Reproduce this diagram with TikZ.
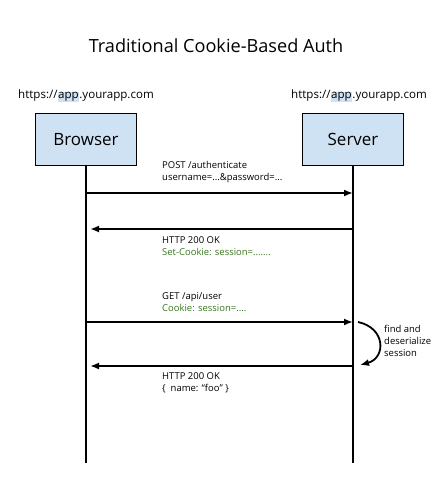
\documentclass[tikz,border=0pt]{standalone}
\usepackage{fontspec}
\setmainfont{Open Sans}
\usetikzlibrary{arrows.meta}
\definecolor{boxblue}{HTML}{CFE2F3}
\definecolor{hlblue}{HTML}{CFE2F3}
\definecolor{okgreen}{HTML}{38761D}
\newcommand{\hlapp}{{\setlength{\fboxsep}{0.6pt}\colorbox{hlblue}{app}}}

\begin{document}
\begin{tikzpicture}[x=1bp,y=-1bp,>={Latex[length=9bp,width=7bp]},
  actor/.style={draw,line width=1.3bp,fill=boxblue,minimum width=101bp,minimum height=52bp,font=\fontsize{17}{20}\selectfont},
  url/.style={font=\fontsize{11.6}{13}\selectfont},
  lbl/.style={anchor=west,align=left,inner sep=0pt,font=\fontsize{9.5}{12}\selectfont},
  life/.style={line width=1.8bp},
  msg/.style={->,line width=1.8bp}]
\useasboundingbox (0,0) rectangle (434,496);
\node[font=\fontsize{18.2}{22}\selectfont] (title) at (216,46) {Traditional Cookie-Based Auth};
\node[url] (urlB) at (86,96) {https://\hlapp.yourapp.com};
\node[url] (urlS) at (359,96) {https://\hlapp.yourapp.com};
\node[actor] (B) at (86,139.7) {Browser};
\node[actor] (S) at (353,139.5) {Server};
\coordinate (Bend) at (86,463);
\coordinate (Send) at (353,463);
\draw[life] (B) -- (Bend);
\draw[life] (S) -- (Send);
% messages
\coordinate (b1) at (86,193); \coordinate (s1) at (353,193);
\coordinate (b2) at (86,229); \coordinate (s2) at (353,229);
\coordinate (b3) at (86,322); \coordinate (s3) at (353,322);
\coordinate (b4) at (86,366); \coordinate (s4) at (353,366);
\draw[msg] (b1) -- (s1);
\draw[msg,shorten >=4bp] (s2) -- (b2);
\draw[msg] (b3) -- (s3);
\draw[msg,shorten >=4bp] (s4) -- (b4);
\node[lbl] (m1) at (162,172) {POST /authenticate\\username=...\&password=...};
\node[lbl] (m2) at (162,246) {HTTP 200 OK\\\textcolor{okgreen}{Set-Cookie: session=.......}};
\node[lbl] (m3) at (162,302) {GET /api/user\\\textcolor{okgreen}{Cookie: session=....}};
\node[lbl] (m4) at (162,383) {HTTP 200 OK\\\{~~name: “foo” \}};
% server side work
\node[lbl] (work) at (384,341) {find and\\deserialize\\session};
\coordinate (c1) at (358,322); \coordinate (c2) at (360,365);
\draw[msg] (c1) .. controls (386,328) and (386,358) .. (c2);
\end{tikzpicture}
\end{document}
